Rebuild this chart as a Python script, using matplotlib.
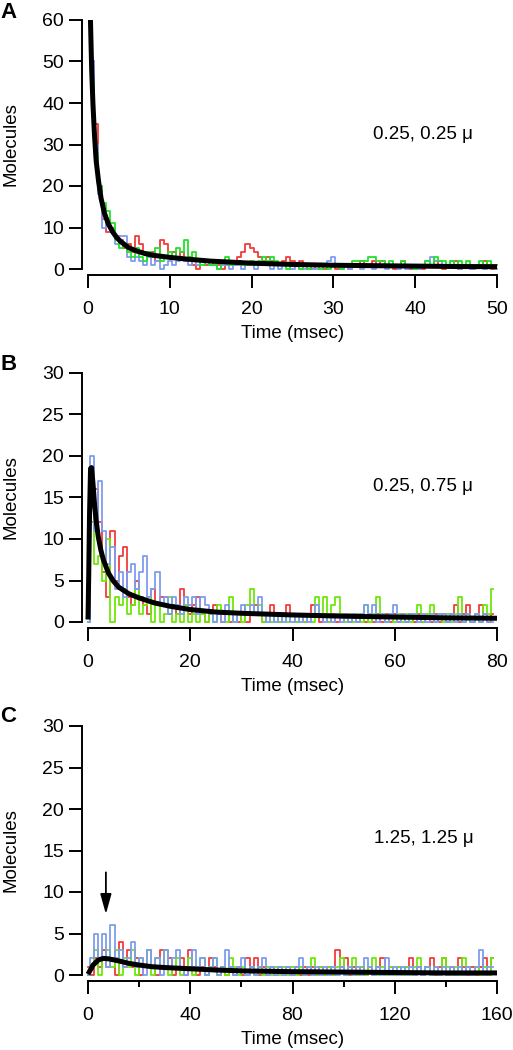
import numpy as np
import matplotlib
matplotlib.use('Agg')
import matplotlib.pyplot as plt

plt.rcParams['font.family'] = ['Liberation Sans', 'DejaVu Sans']
plt.rcParams['font.size'] = 13.5

RED = '#f23c3c'
GREEN_A = '#22e02a'
GREEN = '#6ee80a'
BLUE = '#7f9cf0'

# --- panel A : 0.25, 0.25 um ---
t_a = np.arange(0.5, 50.01, 0.5)
red_a = [50, 35, 20, 12, 9, 10, 8, 7, 5, 6, 4, 8, 6, 4, 3, 4, 2, 7, 6, 3,
         4, 3, 4, 2, 3, 1, 0, 2, 1, 1, 2, 1, 0, 1, 2, 1, 3, 4, 6, 5,
         4, 3, 2, 3, 2, 1, 1, 2, 3, 2, 1, 2, 1, 1, 0, 1, 1, 0, 1, 1,
         0, 1, 1, 0, 1, 1, 2, 1, 1, 2, 1, 2, 1, 1, 0, 1, 2, 1, 0, 1,
         1, 0, 1, 1, 2, 1, 0, 1, 1, 2, 0, 1, 1, 0, 1, 1, 2, 1, 0, 1]
green_a = [45, 28, 20, 16, 14, 11, 7, 5, 6, 4, 3, 5, 3, 2, 4, 3, 5, 2, 3, 4,
           3, 5, 4, 7, 3, 4, 2, 1, 2, 1, 1, 0, 2, 3, 1, 2, 2, 1, 1, 2,
           1, 2, 3, 2, 3, 2, 1, 1, 0, 1, 1, 0, 1, 0, 1, 1, 0, 1, 0, 1,
           1, 0, 1, 1, 2, 2, 2, 2, 3, 3, 2, 2, 1, 2, 1, 1, 2, 1, 1, 0,
           1, 1, 2, 1, 3, 2, 2, 1, 2, 1, 2, 1, 2, 1, 1, 2, 1, 2, 1, 1]
blue_a = [50, 30, 18, 10, 11, 9, 6, 8, 8, 3, 2, 3, 2, 1, 3, 1, 2, 0, 1, 2,
          1, 2, 3, 2, 1, 2, 1, 2, 2, 1, 1, 0, 1, 1, 0, 1, 1, 0, 1, 1,
          0, 1, 1, 1, 0, 1, 0, 1, 1, 0, 1, 0, 0, 1, 0, 0, 1, 1, 2, 3,
          1, 0, 1, 0, 1, 1, 0, 1, 1, 0, 1, 1, 0, 1, 1, 0, 1, 0, 1, 1,
          0, 1, 2, 3, 2, 2, 1, 1, 2, 1, 0, 1, 1, 0, 1, 1, 0, 1, 1, 0]
fit_t_a = [0.3, 0.45, 0.6, 0.8, 1.0, 1.3, 1.6, 2.0, 2.5, 3.0, 3.5, 4, 5, 6, 7, 8,
           10, 12, 15, 20, 25, 30, 35, 40, 45, 50]
fit_a = [60, 48, 40, 32, 26, 21, 17, 13.5, 10.8, 9.0, 7.6, 6.6, 5.1, 4.3, 3.7, 3.3,
         2.8, 2.4, 1.9, 1.4, 1.1, 0.9, 0.8, 0.7, 0.6, 0.55]

# --- panel B : 0.25, 0.75 um ---
t_b = np.arange(0, 80, 0.8)
red_b = [0, 12, 16, 12, 6, 3, 11, 5, 8, 9, 3, 2, 5, 3, 2, 1, 4, 2, 3, 3,
         1, 2, 1, 4, 2, 1, 2, 3, 1, 0, 1, 2, 1, 0, 1, 0, 1, 0, 1, 0,
         1, 2, 1, 0, 1, 2, 1, 0, 1, 2, 1, 0, 1, 0, 1, 2, 1, 0, 1, 0,
         1, 0, 1, 1, 0, 1, 0, 1, 0, 1, 0, 1, 0, 1, 0, 1, 0, 1, 0, 1,
         0, 1, 0, 1, 0, 1, 0, 1, 0, 1, 2, 0, 1, 2, 0, 1, 2, 1, 0, 1]
green_b = [0, 12, 7, 8, 5, 10, 0, 3, 2, 4, 1, 2, 4, 1, 2, 3, 0, 2, 0, 1,
           3, 0, 1, 0, 2, 0, 1, 0, 1, 0, 1, 0, 2, 1, 0, 3, 0, 1, 0, 2,
           4, 1, 2, 0, 1, 0, 1, 0, 1, 0, 1, 0, 1, 0, 1, 0, 3, 1, 3, 0,
           2, 3, 1, 0, 1, 0, 1, 0, 2, 0, 1, 3, 1, 0, 1, 0, 1, 0, 1, 0,
           1, 2, 0, 1, 2, 0, 1, 0, 1, 0, 1, 3, 0, 1, 0, 1, 0, 2, 1, 4]
blue_b = [0, 20, 11, 17, 11, 7, 9, 4, 6, 3, 6, 7, 4, 6, 8, 3, 4, 6, 2, 3,
          1, 3, 2, 1, 3, 2, 3, 1, 3, 2, 1, 0, 1, 0, 2, 1, 0, 1, 2, 1,
          2, 1, 3, 1, 0, 1, 0, 1, 0, 1, 0, 1, 0, 1, 0, 1, 2, 1, 0, 1,
          0, 1, 0, 1, 0, 1, 0, 1, 2, 1, 2, 0, 1, 0, 1, 2, 0, 1, 0, 1,
          1, 0, 1, 0, 1, 0, 1, 1, 0, 1, 0, 1, 0, 1, 0, 1, 0, 1, 0, 0]
fit_t_b = [0, 0.15, 0.3, 0.5, 0.7, 1.0, 1.3, 1.6, 2.0, 2.5, 3, 4, 5, 6, 8, 10,
           13, 16, 20, 25, 30, 40, 50, 60, 70, 80]
fit_b = [0.3, 6, 13, 18.5, 18.6, 16.5, 14, 12.2, 10.3, 8.7, 7.5, 5.9, 4.9, 4.2, 3.4, 2.9,
         2.3, 1.9, 1.5, 1.2, 1.05, 0.85, 0.7, 0.6, 0.5, 0.45]

# --- panel C : 1.25, 1.25 um ---
t_c = np.arange(0, 160, 1.6)
red_c = [1, 0, 2, 1, 3, 1, 2, 0, 4, 1, 3, 1, 2, 0, 1, 3, 1, 0, 3, 1,
         2, 0, 1, 2, 0, 3, 1, 0, 1, 0, 2, 1, 0, 1, 0, 1, 0, 1, 0, 2,
         1, 2, 0, 1, 0, 1, 0, 1, 0, 1, 0, 1, 0, 1, 0, 1, 0, 1, 0, 1,
         0, 3, 1, 2, 0, 1, 0, 1, 0, 1, 0, 1, 2, 0, 1, 0, 1, 0, 1, 2,
         0, 1, 0, 1, 2, 0, 1, 2, 0, 1, 0, 2, 1, 0, 1, 0, 1, 2, 0, 2]
green_c = [0, 1, 3, 0, 2, 3, 1, 3, 0, 2, 1, 3, 0, 2, 1, 3, 0, 2, 1, 3,
           0, 1, 2, 0, 1, 2, 0, 1, 2, 0, 1, 2, 0, 1, 0, 2, 1, 0, 1, 0,
           1, 0, 1, 0, 1, 0, 1, 0, 1, 0, 1, 0, 1, 0, 1, 2, 0, 1, 0, 1,
           0, 1, 2, 0, 1, 2, 0, 1, 0, 1, 2, 0, 1, 0, 1, 0, 1, 0, 1, 0,
           1, 2, 0, 1, 0, 1, 0, 2, 1, 0, 1, 0, 2, 1, 0, 1, 0, 1, 0, 2]
blue_c = [0, 2, 5, 2, 5, 1, 6, 2, 3, 1, 2, 4, 1, 2, 0, 3, 1, 2, 0, 3,
          1, 2, 3, 1, 0, 1, 3, 1, 2, 0, 1, 2, 0, 1, 3, 1, 0, 1, 2, 0,
          1, 0, 1, 2, 0, 1, 0, 1, 0, 1, 0, 1, 2, 0, 1, 0, 1, 0, 1, 0,
          1, 0, 1, 0, 1, 0, 1, 0, 2, 1, 0, 1, 0, 2, 0, 1, 0, 1, 0, 1,
          0, 1, 0, 1, 0, 1, 0, 1, 0, 1, 0, 1, 0, 1, 0, 1, 3, 0, 1, 1]
fit_t_c = [0, 2, 4, 6, 8, 12, 16, 20, 25, 30, 40, 50, 60, 80, 100, 120, 140, 160]
fit_c = [0.1, 1.2, 1.8, 2.0, 1.95, 1.7, 1.4, 1.2, 1.0, 0.9, 0.75, 0.6, 0.5, 0.4,
         0.35, 0.3, 0.25, 0.25]

fig = plt.figure(figsize=(5.13, 10.5), dpi=100)
W, H = 513.0, 1050.0


def make_axes(x0, x1, y_top, y_zero):
    return fig.add_axes([x0 / W, 1 - y_zero / H, (x1 - x0) / W, (y_zero - y_top) / H])


def style(ax, xmax, xticks, ymax, yticks, minor=None):
    ax.set_xlim(0, xmax)
    ax.set_ylim(0, ymax)
    ax.set_xticks(xticks)
    ax.set_yticks(yticks)
    if minor is not None:
        ax.set_xticks(minor, minor=True)
        ax.tick_params(axis='x', which='minor', length=4.5, width=1.4, direction='out')
    for s in ['top', 'right']:
        ax.spines[s].set_visible(False)
    for s in ['left', 'bottom']:
        ax.spines[s].set_position(('outward', 4.3))
        ax.spines[s].set_linewidth(1.4)
    ax.tick_params(axis='x', which='major', length=9.5, width=1.4, pad=9.5, labelsize=14)
    ax.tick_params(axis='y', which='major', length=9.5, width=1.4, pad=3.5, labelsize=14)
    ax.set_xlabel('Time (msec)', fontsize=13.5)
    ax.set_ylabel('Molecules', fontsize=13.5)
    ax.xaxis.set_label_coords(0.5, -0.225)
    ax.yaxis.set_label_coords(-0.168, 0.5)


def trace(ax, t, v, c):
    ax.plot(t, v, color=c, lw=1.3, drawstyle='steps-mid', clip_on=False)


# A
ax = make_axes(88, 497, 20, 269)
trace(ax, t_a, red_a, RED)
trace(ax, t_a, blue_a, BLUE)
trace(ax, t_a, green_a, GREEN_A)
ax.plot(fit_t_a, fit_a, color='black', lw=3.6, clip_on=False, solid_capstyle='butt')
style(ax, 50, [0, 10, 20, 30, 40, 50], 60, [0, 10, 20, 30, 40, 50, 60])
ax.text(34.8, 32.3, '0.25, 0.25 \u03bc', fontsize=13.5, va='center')
fig.text(0, 1 - 13 / H, 'A', fontsize=16, fontweight='bold', va='center')

# B
ax = make_axes(88, 497, 373, 622)
trace(ax, t_b, red_b, RED)
trace(ax, t_b, green_b, GREEN)
trace(ax, t_b, blue_b, BLUE)
ax.plot(fit_t_b, fit_b, color='black', lw=3.6, clip_on=False, solid_capstyle='butt')
style(ax, 80, [0, 20, 40, 60, 80], 30, [0, 5, 10, 15, 20, 25, 30])
ax.text(55.7, 16.3, '0.25, 0.75 \u03bc', fontsize=13.5, va='center')
fig.text(0, 1 - 364 / H, 'B', fontsize=16, fontweight='bold', va='center')

# C
ax = make_axes(88, 497, 726, 975)
trace(ax, t_c, red_c, RED)
trace(ax, t_c, green_c, GREEN)
trace(ax, t_c, blue_c, BLUE)
ax.plot(fit_t_c, fit_c, color='black', lw=3.6, clip_on=False, solid_capstyle='butt')
style(ax, 160, [0, 40, 80, 120, 160], 30, [0, 5, 10, 15, 20, 25, 30],
      minor=[20, 60, 100, 140])
ax.text(112, 16.4, '1.25, 1.25 \u03bc', fontsize=13.5, va='center')
ax.annotate('', xy=(7, 7.0), xytext=(7, 12.7),
            arrowprops=dict(arrowstyle='-|>,head_width=0.25,head_length=0.9',
                            color='black', lw=1.3))
fig.text(0, 1 - 716 / H, 'C', fontsize=16, fontweight='bold', va='center')

fig.savefig('out.png', dpi=100)
